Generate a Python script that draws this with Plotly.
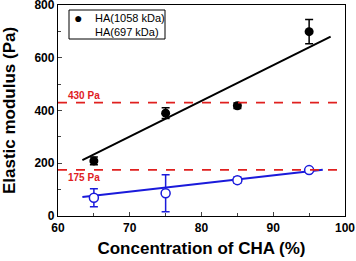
import plotly.graph_objects as go

cha = [65, 75, 85, 95]
ha1058 = [209, 390, 418, 699]
ha1058_err = [15, 20, 10, 46]
ha697 = [69, 86, 136, 174]
ha697_err = [34, 70, 12, 8]

fit1058_x = [63.4, 98.0]
fit1058_y = [212, 680]
fit697_x = [63.4, 96.9]
fit697_y = [72, 175]

ref_levels = [430, 175]
ref_labels = ["430 Pa", "175 Pa"]
legend_names = ["HA(1058 kDa)", "HA(697 kDa)"]

BLACK = "#000000"
BLUE = "#1a1adb"
RED = "#e0201f"
FONT = "Liberation Sans, Arial, sans-serif"

# plot area in pixels (for paper-coordinate helpers)
L, R, T, B = 58, 11, 5, 45
W, H = 356, 261
PW, PH = W - L - R, H - T - B


def px(x):
    return (x - L) / PW


def py(y):
    return (H - B - y) / PH


fig = go.Figure()

fig.add_trace(go.Scatter(x=fit1058_x, y=fit1058_y, mode="lines",
                         line=dict(color=BLACK, width=2), showlegend=False))
fig.add_trace(go.Scatter(x=fit697_x, y=fit697_y, mode="lines",
                         line=dict(color=BLUE, width=2), showlegend=False))

fig.add_trace(go.Scatter(x=cha, y=ha1058, mode="markers", showlegend=False,
                         marker=dict(color=BLACK, size=9, symbol="circle"),
                         error_y=dict(type="data", array=ha1058_err, color=BLACK,
                                      thickness=1.5, width=4)))
fig.add_trace(go.Scatter(x=cha, y=ha697, mode="markers", showlegend=False,
                         marker=dict(color="white", size=9, symbol="circle",
                                     line=dict(color=BLUE, width=1.5)),
                         error_y=dict(type="data", array=ha697_err, color=BLUE,
                                      thickness=1.5, width=4)))

for lvl, lab, shift in zip(ref_levels, ref_labels, [1, -1]):
    fig.add_hline(y=lvl, line=dict(color=RED, width=1.8, dash="dash"))
    fig.add_annotation(x=61.2, y=lvl, text=lab, showarrow=False,
                       xanchor="left", yanchor="bottom" if shift > 0 else "top",
                       yshift=1 * shift, borderpad=0,
                       font=dict(color=RED, size=10, family=FONT, weight="bold"))

# legend box (manual, to match the compact original)
fig.add_shape(type="rect", xref="paper", yref="paper",
              x0=px(69), x1=px(165), y0=py(39), y1=py(10),
              line=dict(color=BLACK, width=1), fillcolor="white", layer="above")
fig.add_annotation(xref="paper", yref="paper", x=px(78), y=py(18), text="●",
                   showarrow=False, font=dict(size=14, color=BLACK, family=FONT),
                   xanchor="center", yanchor="middle", borderpad=0)
for name, yy in zip(legend_names, [18, 32]):
    fig.add_annotation(xref="paper", yref="paper", x=px(94), y=py(yy), text=name,
                       showarrow=False, xanchor="left", yanchor="middle", borderpad=0,
                       font=dict(size=11, color=BLACK, family=FONT))

fig.update_layout(
    width=W, height=H,
    margin=dict(l=L, r=R, t=T, b=B, autoexpand=False),
    paper_bgcolor="white", plot_bgcolor="white",
    font=dict(family=FONT, color=BLACK),
    showlegend=False,
)
fig.update_xaxes(range=[60, 100], tickvals=[60, 70, 80, 90, 100],
                 ticks="inside", ticklen=4, tickwidth=1.2,
                 minor=dict(tickvals=[65, 75, 85, 95], ticks="inside", ticklen=2.5),
                 showline=True, linecolor=BLACK, linewidth=1.3, mirror=True,
                 showgrid=False, zeroline=False, automargin=False,
                 ticklabeloverflow="allow",
                 tickfont=dict(size=12, family=FONT, weight="bold"),
                 title=dict(text="Concentration of CHA (%)",
                            font=dict(size=17, family=FONT, weight="bold"), standoff=8))
fig.update_yaxes(range=[0, 800], tickvals=[0, 200, 400, 600, 800],
                 ticks="inside", ticklen=4, tickwidth=1.2,
                 minor=dict(tickvals=[100, 300, 500, 700], ticks="inside", ticklen=2.5),
                 showline=True, linecolor=BLACK, linewidth=1.3, mirror=True,
                 showgrid=False, zeroline=False, automargin=False,
                 ticklabeloverflow="allow",
                 tickfont=dict(size=12, family=FONT, weight="bold"),
                 title=dict(text="Elastic modulus (Pa)",
                            font=dict(size=17, family=FONT, weight="bold"), standoff=14))

fig.write_html("out.html", config={"displayModeBar": False},
               post_script="document.body.style.margin='0';document.body.style.overflow='hidden';")
